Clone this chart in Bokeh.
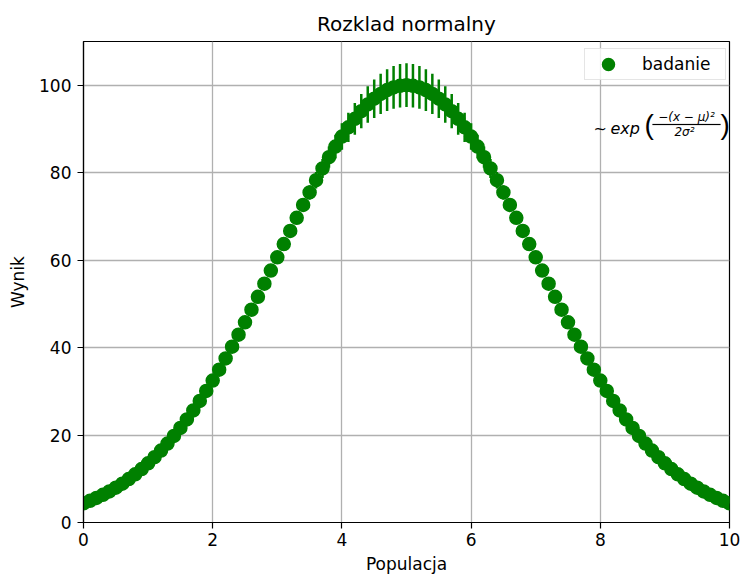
from bokeh.plotting import figure
from bokeh.models import (Range1d, FixedTicker, Legend, LegendItem, Label,
                          BoxAnnotation, ColumnDataSource, CDSView, IndexFilter)
from bokeh.embed import file_html
from bokeh.resources import INLINE

# Populacja (x) sampled every 0.1 from 0 to 10
populacja = [i / 10 for i in range(101)]

# Wynik values
wynik = [4.39, 4.97, 5.61, 6.32, 7.10, 7.96, 8.89, 9.92, 11.03, 12.23,
         13.53, 14.94, 16.45, 18.06, 19.79, 21.62, 23.57, 25.63, 27.80, 30.08,
         32.47, 34.95, 37.53, 40.20, 42.96, 45.79, 48.68, 51.62, 54.61, 57.62,
         60.65, 63.68, 66.69, 69.68, 72.61, 75.48, 78.27, 80.96, 83.53, 85.96,
         88.25, 90.37, 92.31, 94.06, 95.60, 96.92, 98.02, 98.88, 99.50, 99.88,
         100.00,
         99.88, 99.50, 98.88, 98.02, 96.92, 95.60, 94.06, 92.31, 90.37, 88.25,
         85.96, 83.53, 80.96, 78.27, 75.48, 72.61, 69.68, 66.69, 63.68, 60.65,
         57.62, 54.61, 51.62, 48.68, 45.79, 42.96, 40.20, 37.53, 34.95, 32.47,
         30.08, 27.80, 25.63, 23.57, 21.62, 19.79, 18.06, 16.45, 14.94, 13.53,
         12.23, 11.03, 9.92, 8.89, 7.96, 7.10, 6.32, 5.61, 4.97, 4.39]

# error bar half-lengths
blad = [0.00, 0.00, 0.00, 0.00, 0.00, 0.00, 0.00, 0.00, 0.00, 0.00,
        0.00, 0.01, 0.01, 0.01, 0.01, 0.01, 0.02, 0.02, 0.03, 0.04,
        0.06, 0.07, 0.10, 0.13, 0.17, 0.22, 0.28, 0.36, 0.45, 0.55,
        0.68, 0.82, 0.99, 1.18, 1.39, 1.62, 1.88, 2.15, 2.43, 2.73,
        3.03, 3.34, 3.63, 3.91, 4.18, 4.41, 4.62, 4.78, 4.90, 4.98,
        5.00,
        4.98, 4.90, 4.78, 4.62, 4.41, 4.18, 3.91, 3.63, 3.34, 3.03,
        2.73, 2.43, 2.15, 1.88, 1.62, 1.39, 1.18, 0.99, 0.82, 0.68,
        0.55, 0.45, 0.36, 0.28, 0.22, 0.17, 0.13, 0.10, 0.07, 0.06,
        0.04, 0.03, 0.02, 0.02, 0.01, 0.01, 0.01, 0.01, 0.01, 0.00,
        0.00, 0.00, 0.00, 0.00, 0.00, 0.00, 0.00, 0.00, 0.00, 0.00]

x_ticks = [0, 2, 4, 6, 8, 10]
y_ticks = [0, 20, 40, 60, 80, 100]

GREEN = "#008000"
FONT = "DejaVu Sans"
FS = "17px"

src = ColumnDataSource(dict(
    x=populacja, y=wynik,
    lo=[a - b for a, b in zip(wynik, blad)],
    hi=[a + b for a, b in zip(wynik, blad)],
))

p = figure(width=742, height=576, output_backend="svg", toolbar_location=None,
           x_range=Range1d(0, 10), y_range=Range1d(0, 110),
           min_border_left=83, min_border_right=13, min_border_top=41,
           min_border_bottom=54, title="Rozklad normalny")

p.title.align = "center"
p.title.text_font = FONT
p.title.text_font_size = "20px"
p.title.text_font_style = "normal"
p.title.text_color = "black"
p.title.standoff = 12

p.outline_line_color = "black"
p.outline_line_width = 1.2
p.outline_line_alpha = 1.0

p.xaxis.ticker = FixedTicker(ticks=x_ticks)
p.yaxis.ticker = FixedTicker(ticks=y_ticks)
p.xaxis.axis_label = "Populacja"
p.yaxis.axis_label = "Wynik"
for ax in (p.xaxis[0], p.yaxis[0]):
    ax.major_tick_out = 6
    ax.major_tick_in = 0
    ax.minor_tick_out = 0
    ax.minor_tick_in = 0
    ax.axis_line_color = "black"
    ax.axis_line_width = 1.2
    ax.major_tick_line_color = "black"
    ax.major_tick_line_width = 1.2
    ax.major_label_text_font = FONT
    ax.major_label_text_font_size = FS
    ax.major_label_text_color = "black"
    ax.axis_label_text_font = FONT
    ax.axis_label_text_font_size = FS
    ax.axis_label_text_font_style = "normal"
    ax.axis_label_text_color = "black"
p.xaxis.major_label_standoff = 4
p.xaxis.axis_label_standoff = 5
p.yaxis.major_label_standoff = 6
p.yaxis.axis_label_standoff = 8

p.grid.grid_line_color = "#b0b0b0"
p.grid.grid_line_width = 1.3

bars = p.segment(x0="x", y0="lo", x1="x", y1="hi", source=src,
                 line_color=GREEN, line_width=2.5)
pts = p.scatter("x", "y", source=src, size=13, fill_color=GREEN,
                line_color=GREEN, line_width=1.5)
# legend-only key (circle with error-bar spikes); draws no points in the plot
spikes = p.scatter("x", "y", source=src, marker="square_pin", size=13,
                   angle=0.785398, fill_color=GREEN, line_color=GREEN,
                   line_width=1, view=CDSView(filter=IndexFilter(indices=[])))

legend = Legend(items=[LegendItem(label="badanie", renderers=[spikes, pts])],
                location=(501, 442), margin=0, padding=0, spacing=0,
                glyph_width=46, glyph_height=30, label_standoff=11,
                label_height=30, label_width=83, label_text_font=FONT,
                label_text_font_size=FS, label_text_color="black",
                border_line_color="#cccccc", border_line_width=1,
                background_fill_alpha=0.8)
p.add_layout(legend)

# formula annotation  ~ exp( -(x-mu)^2 / 2 sigma^2 )
def lab(text, x, y, size, style="normal", align="left", baseline="alphabetic",
        font=FONT):
    p.add_layout(Label(text=text, x=x, y=y, x_units="screen", y_units="screen",
                       text_font=font, text_font_size=size,
                       text_font_style=style, text_align=align,
                       text_baseline=baseline, text_color="black"))

lab("~", 510, 394, "16px")
lab("exp", 527, 394, "16px", style="italic")
lab("(", 561, 398, "28px", baseline="middle", font="Liberation Sans")
lab("−(x − μ)²", 603, 406, "12px", style="italic", align="center", baseline="middle")
lab("2σ²", 601, 391, "12px", style="italic", align="center", baseline="middle")
lab(")", 637, 398, "28px", baseline="middle", font="Liberation Sans")
p.add_layout(BoxAnnotation(left=652, right=720, top=123.4, bottom=124.6,
                           left_units="canvas", right_units="canvas",
                           bottom_units="canvas", top_units="canvas",
                           fill_color="black", fill_alpha=1.0,
                           line_color="black", line_width=0.5))

open("out.html", "w").write(file_html(p, INLINE))
